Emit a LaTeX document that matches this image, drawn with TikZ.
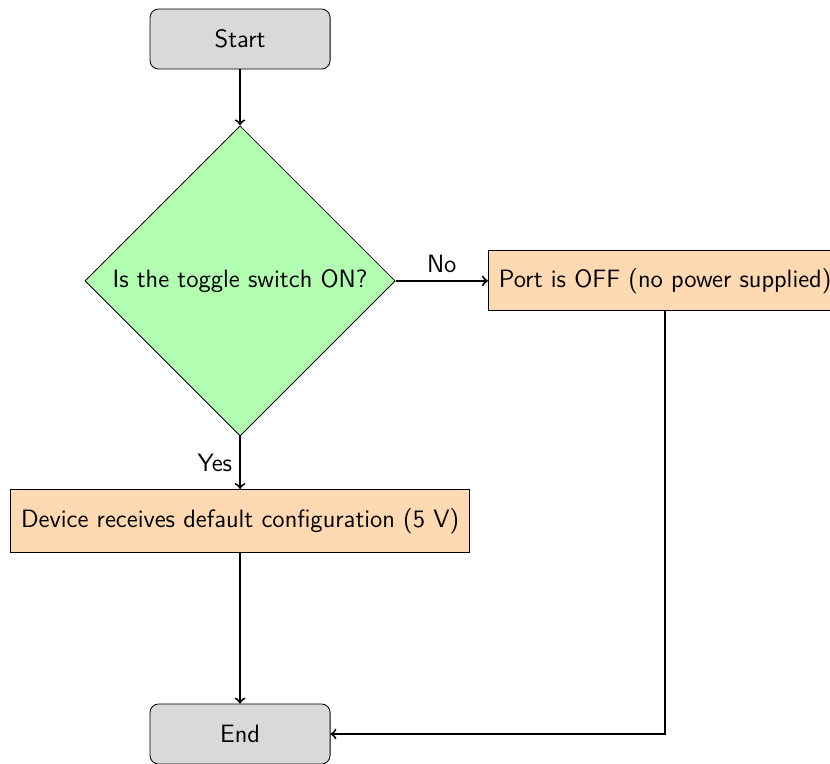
\documentclass[tikz,border=0pt]{standalone}
\usetikzlibrary{shapes.geometric}
\begin{document}
\begin{tikzpicture}[font=\sffamily\fontsize{11.9}{14}\selectfont,
    term/.style={draw, rounded corners, fill=black!15, minimum width=3cm, minimum height=1cm},
    decision/.style={draw, diamond, fill=green!30, inner sep=0pt, minimum width=5.17cm, minimum height=5.17cm},
    process/.style={draw, fill=orange!30, minimum height=1cm, inner sep=5pt},
    arrow/.style={line width=.9pt, ->}]
    \useasboundingbox (0, 0) rectangle (13.83, -12.72);
    \node[term] (start) at (4, -.65) {Start};
    \node[decision] (toggle) at (4, -4.68) {\makebox[0pt]{Is the toggle switch ON?}};
    \node[process, anchor=west] (off) at (8.13, -4.68) {Port is OFF (no power supplied)};
    \node[process, minimum height=1.05cm] (device) at (4, -8.68) {Device receives default configuration (5 V)};
    \node[term] (end) at (4, -12.23) {End};
    \draw[arrow] (start) -- (toggle);
    \draw[arrow] (toggle) -- node[above] {No} (off);
    \draw[arrow] (toggle) -- node[left] {Yes} (device);
    \draw[arrow] (device) -- (end);
    \draw[arrow] (off.south) |- (end);
\end{tikzpicture}
\end{document}
